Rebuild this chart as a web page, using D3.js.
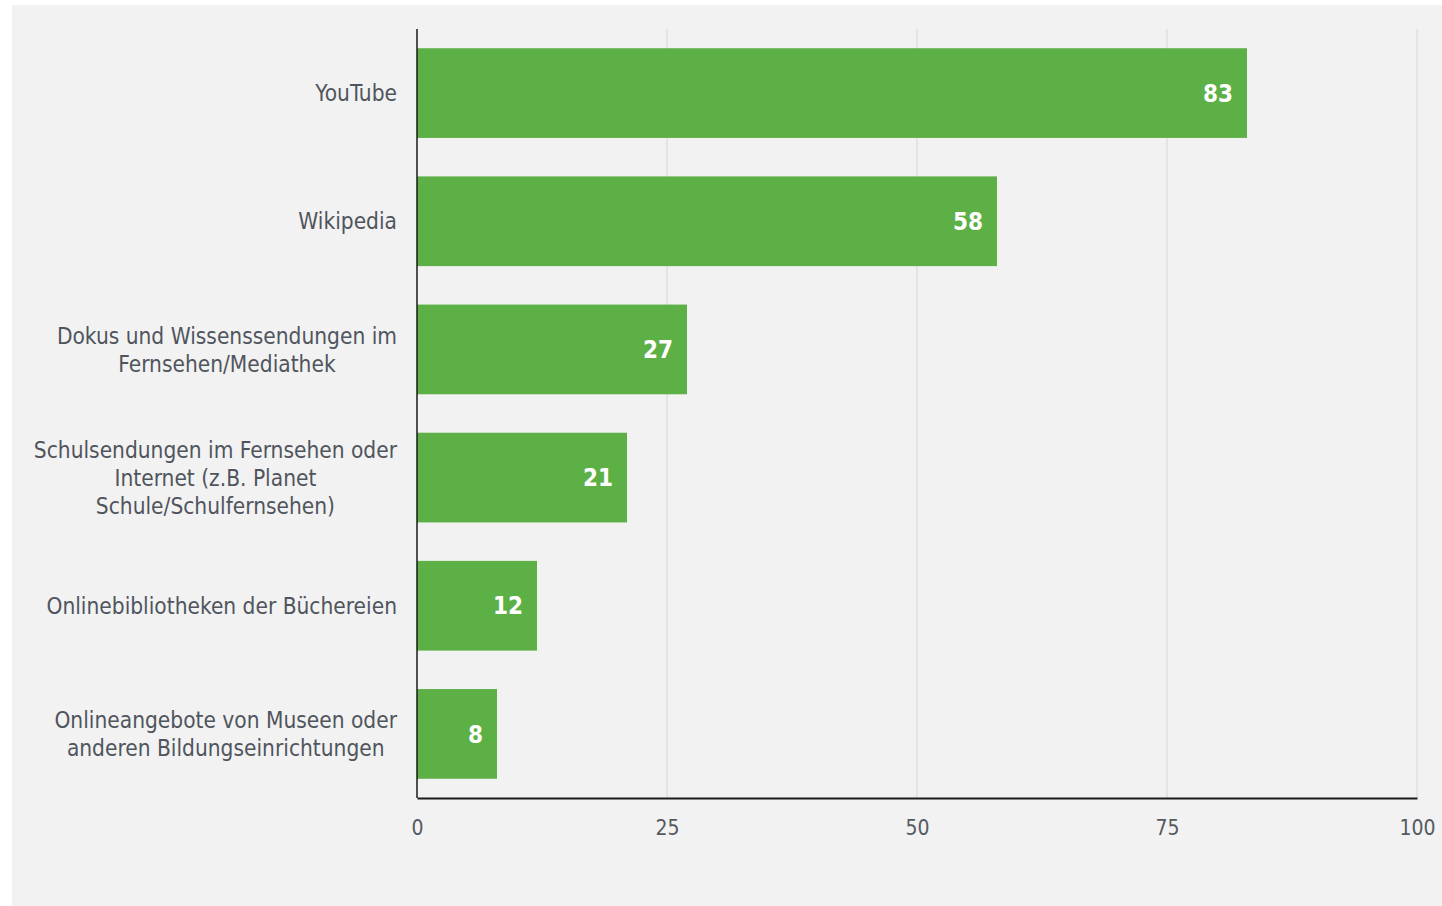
<!DOCTYPE html>
<html>
<head>
<meta charset="utf-8">
<script src="https://cdn.jsdelivr.net/npm/d3@7"></script>
<style>
  body { margin: 0; background: #ffffff; }
  svg { display: block; }
</style>
</head>
<body>
<div id="chart"></div>
<script>
var svgWidth = 1442;
var svgHeight = 906;

// data
var categories = [
  "YouTube",
  "Wikipedia",
  "Dokus und Wissenssendungen im Fernsehen/Mediathek",
  "Schulsendungen im Fernsehen oder Internet (z.B. Planet Schule/Schulfernsehen)",
  "Onlinebibliotheken der Büchereien",
  "Onlineangebote von Museen oder anderen Bildungseinrichtungen"
];
// how each label wraps in the picture
var labelLines = [
  ["YouTube"],
  ["Wikipedia"],
  ["Dokus und Wissenssendungen im", "Fernsehen/Mediathek"],
  ["Schulsendungen im Fernsehen oder", "Internet (z.B. Planet", "Schule/Schulfernsehen)"],
  ["Onlinebibliotheken der Büchereien"],
  ["Onlineangebote von Museen oder", "anderen Bildungseinrichtungen"]
];
var values = [83, 58, 27, 21, 12, 8];
var xTicks = [0, 25, 50, 75, 100];

var margin = { top: 29, right: 25, bottom: 108, left: 417 };
var width = svgWidth - margin.left - margin.right;
var height = svgHeight - margin.top - margin.bottom;

var svg = d3.select("#chart")
  .append("svg")
  .attr("width", svgWidth)
  .attr("height", svgHeight);

// grey panel
svg.append("rect")
  .attr("x", 12)
  .attr("y", 5)
  .attr("width", svgWidth - 12)
  .attr("height", svgHeight - 5)
  .attr("fill", "#f2f2f2");

var chartGroup = svg.append("g")
  .attr("transform", `translate(${margin.left}, ${margin.top})`);

var xScale = d3.scaleLinear().domain([0, 100]).range([0, width]);
var yScale = d3.scaleBand()
  .domain(categories)
  .range([0, height])
  .paddingInner(0.3)
  .paddingOuter(0.15);

var font = "'DejaVu Sans Condensed', 'DejaVu Sans', sans-serif";

// gridlines
chartGroup.selectAll(".grid")
  .data(xTicks.filter(d => d > 0))
  .enter()
  .append("line")
  .attr("x1", d => xScale(d))
  .attr("x2", d => xScale(d))
  .attr("y1", 0)
  .attr("y2", height)
  .attr("stroke", "#dadada")
  .attr("stroke-width", 1.2);

// bars
chartGroup.selectAll(".bar")
  .data(values)
  .enter()
  .append("rect")
  .attr("x", 0)
  .attr("y", (d, i) => yScale(categories[i]))
  .attr("width", d => xScale(d))
  .attr("height", yScale.bandwidth())
  .attr("fill", "#5db046");

// value labels
chartGroup.selectAll(".val")
  .data(values)
  .enter()
  .append("text")
  .attr("x", d => xScale(d) - 14)
  .attr("y", (d, i) => yScale(categories[i]) + yScale.bandwidth() / 2)
  .attr("dy", "0.36em")
  .attr("text-anchor", "end")
  .attr("font-family", font)
  .attr("font-size", 24)
  .attr("font-weight", "bold")
  .attr("fill", "#ffffff")
  .text(d => d);

// x axis
var bottomAxis = d3.axisBottom(xScale).tickValues(xTicks).tickSize(0).tickPadding(22);
var xAxis = chartGroup.append("g")
  .attr("transform", `translate(0, ${height})`)
  .call(bottomAxis);
xAxis.select(".domain").attr("stroke", "#1a1a1a").attr("stroke-width", 2);
xAxis.selectAll("text")
  .attr("font-family", font)
  .attr("font-size", 21)
  .attr("fill", "#555a60");

// y axis line
chartGroup.append("line")
  .attr("x1", 0).attr("x2", 0)
  .attr("y1", 0).attr("y2", height)
  .attr("stroke", "#1a1a1a")
  .attr("stroke-width", 1.5);

// category labels
var lineHeight = 28;
var labels = chartGroup.selectAll(".cat")
  .data(categories)
  .enter()
  .append("text")
  .attr("text-anchor", "middle")
  .attr("font-family", font)
  .attr("font-size", 22.5)
  .attr("fill", "#50555d");

labels.each(function(d, i) {
  var lines = labelLines[i];
  var cy = yScale(d) + yScale.bandwidth() / 2;
  var start = cy - (lines.length - 1) * lineHeight / 2;
  var t = d3.select(this);
  // widest line is right aligned at x=-20, others centred on it
  var tmp = t.append("tspan").text(lines.reduce((a, b) => a.length >= b.length ? a : b));
  var w = tmp.node().getComputedTextLength();
  tmp.remove();
  lines.forEach(function(line, j) {
    t.append("tspan")
      .attr("x", -20 - w / 2)
      .attr("y", start + j * lineHeight)
      .attr("dy", "0.36em")
      .text(line);
  });
});
</script>
</body>
</html>
